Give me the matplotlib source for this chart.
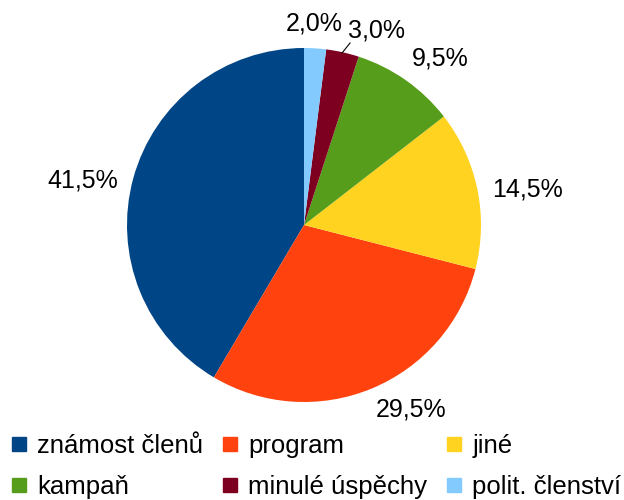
import matplotlib.pyplot as plt
from matplotlib.lines import Line2D

plt.rcParams['font.family'] = ['Liberation Sans', 'DejaVu Sans']

categories = ['známost členů', 'program', 'jiné', 'kampaň', 'minulé úspěchy', 'polit. členství']
shares = [41.5, 29.5, 14.5, 9.5, 3.0, 2.0]
colors = ['#004586', '#ff420e', '#ffd320', '#579d1c', '#7e0021', '#83caff']
labels = [('%.1f%%' % v).replace('.', ',') for v in shares]

fig = plt.figure(figsize=(6.24, 5.0), dpi=100)
ax = fig.add_axes([(304 - 177) / 624, (500 - 402) / 500, 354 / 624, 354 / 500])
wedges, texts = ax.pie(shares, labels=labels, colors=colors, startangle=90,
                       counterclock=True, labeldistance=1.1,
                       wedgeprops=dict(linewidth=0),
                       textprops=dict(fontsize=18))
ax.set_xlim(-1, 1)
ax.set_ylim(-1, 1)

# label placement like the original (x, y, ha)
label_pos = [(-1.05, 0.254, 'right'), (0.605, -1.045, 'center'),
             (1.062, 0.203, 'left'), (0.61, 0.943, 'left'),
             (0.249, 1.10, 'left'), (0.056, 1.136, 'center')]
for t, (x, y, ha) in zip(texts, label_pos):
    t.set_position((x, y))
    t.set_ha(ha)
    t.set_va('center')
ax.plot([0.215, 0.26], [0.972, 1.028], color='black', lw=0.8, clip_on=False)

handles = [Line2D([], [], marker='s', linestyle='none', markersize=10,
                  markerfacecolor=c, markeredgecolor=c) for c in colors]
# legend fills column-wise, reorder to get row-wise order
order = [0, 3, 1, 4, 2, 5]
fig.legend([handles[i] for i in order], [categories[i] for i in order],
           ncol=3, loc='lower left', bbox_to_anchor=(0.002, -0.018),
           frameon=False, fontsize=18.5, handlelength=0.6, handletextpad=0.4,
           columnspacing=0.75, labelspacing=0.65, borderaxespad=0)

plt.savefig('out.png')
